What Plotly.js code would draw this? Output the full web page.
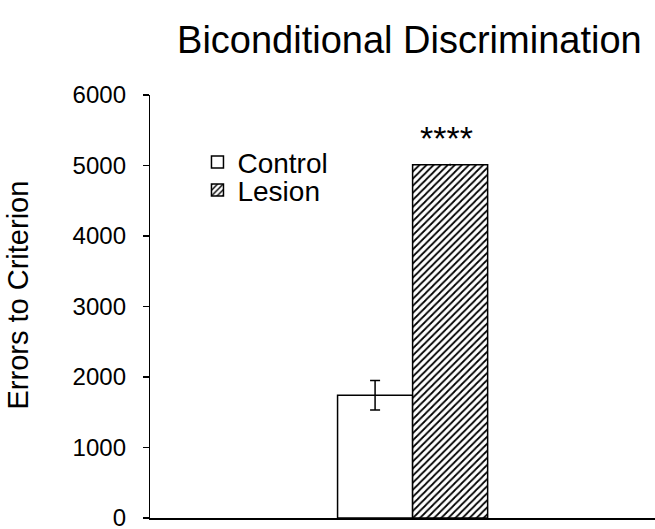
<!DOCTYPE html>
<html><head><meta charset="utf-8">
<script src="https://cdn.plot.ly/plotly-3.0.1.min.js"></script>
<style>body{margin:0;background:#fff}#c{width:655px;height:529px}</style>
</head><body><div id="c"></div>
<script>
const groups = [0];
const controlVals = [1740];
const controlErr = [210];
const lesionVals = [5010];
const lesionErr = [15];
const yTicks = [0, 1000, 2000, 3000, 4000, 5000, 6000];
const sigLabel = "****";

const traces = [
  {type:'bar', name:'Control', x:groups, y:controlVals, legend:'legend',
   error_y:{type:'data', array:controlErr, visible:true, color:'#000', thickness:1.5, width:5},
   marker:{color:'#fff', line:{color:'#000', width:1.5}}},
  {type:'bar', name:'Lesion', x:groups, y:lesionVals, legend:'legend2',
   error_y:{type:'data', array:lesionErr, visible:true, color:'#000', thickness:1.5, width:0},
   marker:{color:'#fff', line:{color:'#000', width:1.5},
     pattern:{shape:'/', fgcolor:'#000', bgcolor:'#fff', size:5, solidity:0.35}}}
];
const legStyle = {xanchor:'left', yanchor:'middle', bgcolor:'rgba(0,0,0,0)', font:{size:28}, itemwidth:30};
const layout = {
  width:655, height:529,
  margin:{l:150, r:0, t:95, b:11},
  paper_bgcolor:'#fff', plot_bgcolor:'#fff',
  font:{family:'Liberation Sans, Arial, sans-serif', color:'#000'},
  title:{text:'Biconditional Discrimination', x:0.625, xanchor:'center', y:0.925, yanchor:'middle',
    font:{size:38, color:'#000'}},
  barmode:'group', bargap:0.257, bargroupgap:0,
  showlegend:true,
  legend:Object.assign({x:0.094, y:0.841}, legStyle),
  legend2:Object.assign({x:0.094, y:0.775}, legStyle),
  xaxis:{range:[-1.3,1.2], showticklabels:false, ticks:'', showgrid:false, zeroline:false,
    showline:true, linecolor:'#000', linewidth:1.5, fixedrange:true},
  yaxis:{range:[-1,6000], tickvals:yTicks, ticktext:yTicks.map(String), ticks:'outside', ticklen:6,
    tickwidth:1.2, tickcolor:'#000', showgrid:false, zeroline:false, showline:true, linecolor:'#000',
    linewidth:1.2, tickfont:{size:24}, ticklabelstandoff:12, ticklabeloverflow:'allow'},
  annotations:[
    {x:0.17, y:lesionVals[0], xref:'x', yref:'y', text:sigLabel, showarrow:false,
     yanchor:'bottom', yshift:6, font:{size:34, color:'#000'}},
    {x:(18 - 150) / 505, y:0.526, xref:'paper', yref:'paper', text:'Errors to Criterion', showarrow:false,
     textangle:-90, font:{size:29, color:'#000'}, xanchor:'center', yanchor:'middle'}
  ]
};
Plotly.newPlot('c', traces, layout, {displayModeBar:false, staticPlot:true});
</script></body></html>
